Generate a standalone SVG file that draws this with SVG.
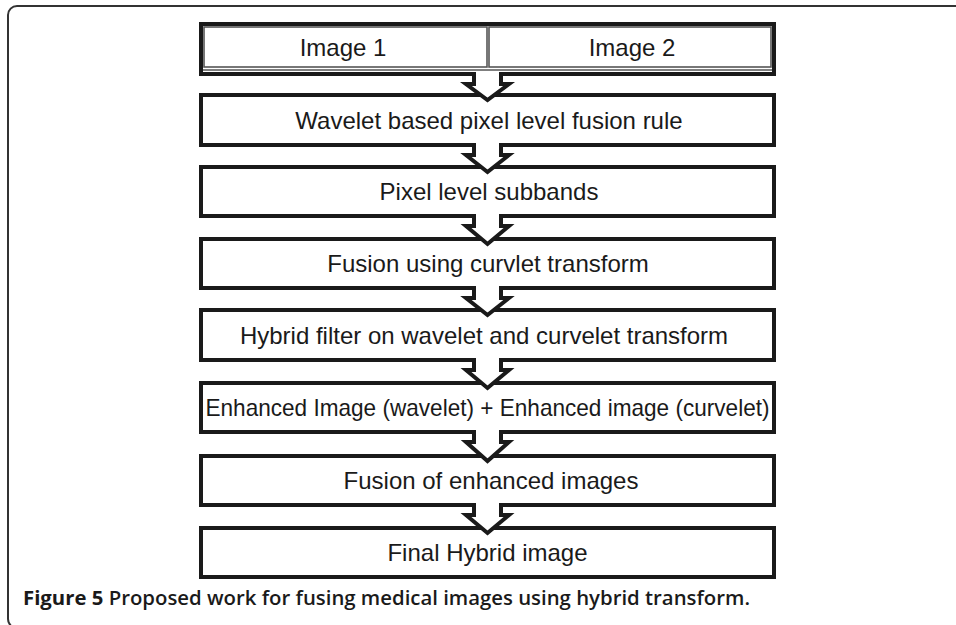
<svg xmlns="http://www.w3.org/2000/svg" width="956" height="625" viewBox="0 0 956 625">
<style>
.box{fill:#fff;stroke:#1a1a1a;stroke-width:4;}
.cell{fill:none;stroke:#555;stroke-width:1.6;}
.lbl{font-family:"Liberation Sans",Arial,sans-serif;font-size:24px;fill:#1a1a1a;text-anchor:middle;}
.arr{fill:#fff;stroke:#1a1a1a;stroke-width:4;stroke-linejoin:miter;}
.cap{font-family:"Open Sans","Noto Sans",sans-serif;font-size:20px;fill:#1a1a1a;}
</style>
<rect x="8" y="6" width="1000" height="622" rx="9" fill="none" stroke="#333" stroke-width="2"/>
<g id="n1">
<rect class="box" x="201" y="24" width="573" height="50"/>
<rect class="cell" x="204" y="27" width="283" height="40"/>
<rect class="cell" x="489" y="27" width="282" height="40"/>
<line x1="203" y1="70" x2="772" y2="70" stroke="#555" stroke-width="1.6"/>
<text class="lbl" x="343" y="56">Image 1</text>
<text class="lbl" x="632" y="56">Image 2</text>
</g>
<g id="n2"><rect class="box" x="201" y="95" width="573" height="50"/><text class="lbl" x="489" y="128.5">Wavelet based pixel level fusion rule</text></g>
<g id="n3"><rect class="box" x="201" y="167" width="573" height="49"/><text class="lbl" x="489" y="200">Pixel level subbands</text></g>
<g id="n4"><rect class="box" x="201" y="239" width="573" height="49"/><text class="lbl" x="488" y="272">Fusion using curvlet transform</text></g>
<g id="n5"><rect class="box" x="201" y="310" width="573" height="50"/><text class="lbl" x="484" y="343.5">Hybrid filter on wavelet and curvelet transform</text></g>
<g id="n6"><rect class="box" x="201" y="383" width="573" height="49"/><text class="lbl" x="487.5" y="416" textLength="564" lengthAdjust="spacingAndGlyphs">Enhanced Image (wavelet) + Enhanced image (curvelet)</text></g>
<g id="n7"><rect class="box" x="201" y="456" width="573" height="49"/><text class="lbl" x="491" y="489">Fusion of enhanced images</text></g>
<g id="n8"><rect class="box" x="201" y="528" width="573" height="49"/><text class="lbl" x="487.5" y="561">Final Hybrid image</text></g>
<g id="connectors">
<path class="arr" d="M474,72 V84 H466 L487.5,100 L509,84 H501 V72"/>
<path class="arr" d="M474,143 V155 H466 L487.5,172 L509,155 H501 V143"/>
<path class="arr" d="M474,214 V226 H466 L487.5,244 L509,226 H501 V214"/>
<path class="arr" d="M474,286 V298 H466 L487.5,315 L509,298 H501 V286"/>
<path class="arr" d="M474,358 V370 H466 L487.5,388 L509,370 H501 V358"/>
<path class="arr" d="M474,430 V442 H466 L487.5,461 L509,442 H501 V430"/>
<path class="arr" d="M474,503 V515 H466 L487.5,533 L509,515 H501 V503"/>
</g>
<text class="cap" x="23" y="605" textLength="727" lengthAdjust="spacingAndGlyphs"><tspan font-weight="700">Figure 5</tspan><tspan font-weight="600"> Proposed work for fusing medical images using hybrid transform.</tspan></text>
</svg>
